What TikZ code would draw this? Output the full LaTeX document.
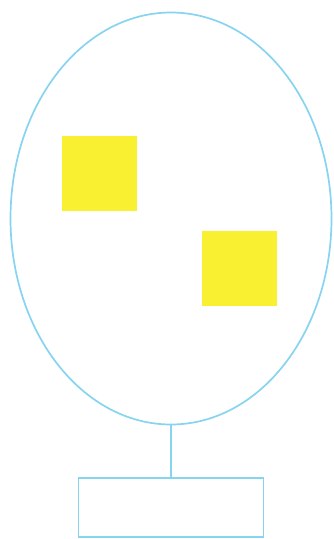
\documentclass[tikz,border=0pt]{standalone}
\usepackage{xcolor}
\definecolor{sky}{RGB}{135,212,240}
\definecolor{lemon}{RGB}{250,240,50}
\usepackage{tikz}
\usetikzlibrary{positioning,shapes.geometric}
\tikzset{
  outline/.style={draw=sky, line width=1.7pt},
  patch/.style={fill=lemon, draw=none, minimum width=75pt, minimum height=75pt, inner sep=0pt},
}

\begin{document}
\begin{tikzpicture}[x=1pt,y=-1pt]
\useasboundingbox (0,0) rectangle (333,539);
\node[outline,ellipse,inner sep=0pt,minimum width=321pt,minimum height=412pt] (frame) at (171,218.5) {};
\node[patch] (left) at (99,173) {};
\node[patch] (right) at (239.5,268.5) {};
\node[outline,rectangle,inner sep=0pt,minimum width=185pt,minimum height=59pt] (base) at (171,507.5) {};
\draw[outline] (frame.south) -- (base.north);
\end{tikzpicture}
\end{document}
